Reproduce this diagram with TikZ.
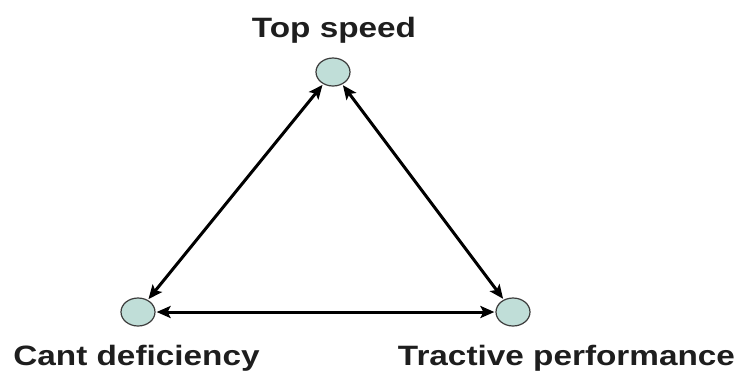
\documentclass[tikz,border=0pt]{standalone}
\usepackage{fontspec}
\setmainfont{Liberation Sans}
\usetikzlibrary{arrows.meta,shapes.geometric}
\definecolor{nodefill}{RGB}{192,222,216}
\definecolor{nodeedge}{RGB}{60,60,60}
\definecolor{txt}{RGB}{30,30,30}
\begin{document}
\begin{tikzpicture}[x=1pt,y=-1pt,
  dot/.style={ellipse,draw=nodeedge,line width=1.2pt,fill=nodefill,minimum width=34pt,minimum height=28pt,inner sep=0pt},
  lbl/.style={font=\fontsize{28}{30}\selectfont\bfseries,text=txt,xscale=1.19,inner sep=0pt,anchor=base},
  link/.style={line width=3pt,{Stealth[length=14pt,width=12pt,inset=3pt]}-{Stealth[length=14pt,width=12pt,inset=3pt]},shorten <=1pt,shorten >=1pt}]
\useasboundingbox (0,0) rectangle (736,373);
\node[dot] (top) at (333,72) {};
\node[dot] (cant) at (138,312) {};
\node[dot] (tract) at (513,312) {};
\node[lbl] (ltop) at (334,37) {Top speed};
\node[lbl] (lcant) at (136.5,365) {Cant deficiency};
\node[lbl] (ltract) at (566.5,365) {Tractive performance};
\draw[link] (top) -- (cant);
\draw[link] (top) -- (tract);
\draw[link] (cant) -- (tract);
\end{tikzpicture}
\end{document}
